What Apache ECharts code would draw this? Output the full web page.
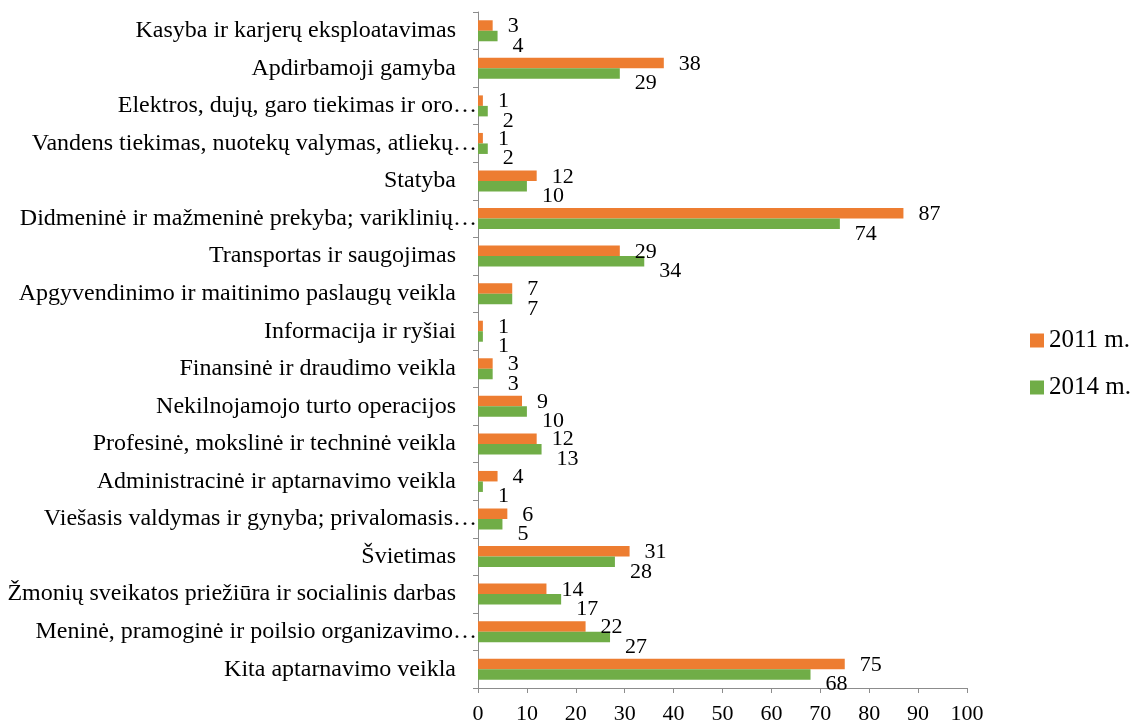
<!DOCTYPE html>
<html><head><meta charset="utf-8">
<script src="https://cdn.jsdelivr.net/npm/echarts@6/dist/echarts.min.js"></script>
<style>html,body{margin:0;padding:0;background:#fff}#c{width:1132px;height:725px}</style>
</head><body><div id="c"></div>
<script>
const categories = [
  "Kasyba ir karjerų eksploatavimas",
  "Apdirbamoji gamyba",
  "Elektros, dujų, garo tiekimas ir oro…",
  "Vandens tiekimas, nuotekų valymas, atliekų…",
  "Statyba",
  "Didmeninė ir mažmeninė prekyba; variklinių…",
  "Transportas ir saugojimas",
  "Apgyvendinimo ir maitinimo paslaugų veikla",
  "Informacija ir ryšiai",
  "Finansinė ir draudimo veikla",
  "Nekilnojamojo turto operacijos",
  "Profesinė, mokslinė ir techninė veikla",
  "Administracinė ir aptarnavimo veikla",
  "Viešasis valdymas ir gynyba; privalomasis…",
  "Švietimas",
  "Žmonių sveikatos priežiūra ir socialinis darbas",
  "Meninė, pramoginė ir poilsio organizavimo…",
  "Kita aptarnavimo veikla"
];
const values2011 = [3, 38, 1, 1, 12, 87, 29, 7, 1, 3, 9, 12, 4, 6, 31, 14, 22, 75];
const values2014 = [4, 29, 2, 2, 10, 74, 34, 7, 1, 3, 10, 13, 1, 5, 28, 17, 27, 68];
const seriesNames = ["2011 m.", "2014 m."];

const FONT = "'Liberation Serif','Times New Roman',serif";
const chart = echarts.init(document.getElementById('c'), null, {renderer: 'canvas'});
chart.setOption({
  animation: false,
  textStyle: {fontFamily: FONT, color: '#000'},
  grid: {left: 478, right: 165, top: 12, bottom: 35, containLabel: false},
  legend: {
    orient: 'vertical', left: 1025, top: 323,
    itemWidth: 14, itemHeight: 14, itemGap: 22,
    icon: 'rect',
    textStyle: {fontFamily: FONT, fontSize: 25, color: '#000', padding: [0,0,0,0]},
    data: seriesNames
  },
  xAxis: {
    type: 'value', min: 0, max: 100, interval: 10,
    axisLine: {show: true, lineStyle: {color: '#8c8c8c', width: 1}},
    axisTick: {show: true, length: 5, lineStyle: {color: '#8c8c8c'}},
    axisLabel: {fontFamily: FONT, fontSize: 22, color: '#000', margin: 15},
    splitLine: {show: false}
  },
  yAxis: {
    type: 'category', data: categories, inverse: true,
    axisLine: {show: true, lineStyle: {color: '#8c8c8c', width: 1}},
    axisTick: {show: true, length: 5, lineStyle: {color: '#8c8c8c'}},
    axisLabel: {
      fontFamily: FONT, fontSize: 24, color: '#000', margin: 1,
      formatter: v => v.endsWith('…') ? '{e|' + v + '}' : '{n|' + v + '}',
      rich: {
        e: {fontFamily: FONT, fontSize: 24, color: '#000'},
        n: {fontFamily: FONT, fontSize: 24, color: '#000', padding: [0, 21, 0, 0]}
      }
    }
  },
  series: [
    {
      name: seriesNames[0], type: 'bar', data: values2011,
      itemStyle: {color: '#ED7D31'},
      barWidth: 10.5, barGap: '0%',
      label: {show: true, position: 'right', distance: 15, offset: [0, 1],
        fontFamily: FONT, fontSize: 22, color: '#000'}
    },
    {
      name: seriesNames[1], type: 'bar', data: values2014,
      itemStyle: {color: '#70AD47'},
      barWidth: 10.5, barGap: '0%',
      label: {show: true, position: 'right', distance: 15, offset: [0, 10],
        fontFamily: FONT, fontSize: 22, color: '#000'}
    }
  ]
});
</script></body></html>
